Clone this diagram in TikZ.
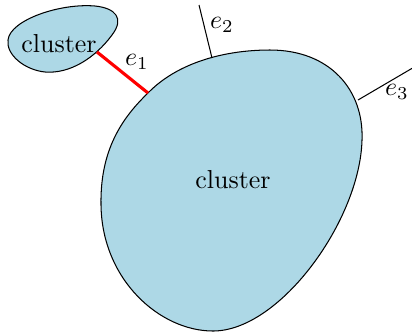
\documentclass[tikz,border=0pt]{standalone}
\usetikzlibrary{calc}
\definecolor{colblob}{RGB}{173,216,230}
\tikzset{
  blob/.style={draw=black,fill=colblob,thin},
  link/.style={draw=black,thin},
  redlink/.style={draw=red,very thick}
}

\begin{document}
\begin{tikzpicture}[x=0.01353cm,y=-0.01353cm]
  \useasboundingbox (0,0) rectangle (412,331);

  % the clusters
  \draw[blob] (8,40) .. controls (10,20) and (60,3) .. (95,6)
    .. controls (115,8) and (125,18) .. (112,35)
    .. controls (95,58) and (70,74) .. (45,72)
    .. controls (25,70) and (6,55) .. cycle;
  \draw[blob] (213,331) .. controls (160,331) and (102,280) .. (101,205)
    .. controls (100,150) and (122,118) .. (148,93)
    .. controls (175,65) and (220,50) .. (270,50)
    .. controls (330,50) and (364,90) .. (362,140)
    .. controls (360,220) and (280,331) .. cycle;

  % attachment points
  \coordinate (sa) at (97,52);
  \coordinate (ba) at (148,93);
  \coordinate (btop) at (212,58);
  \coordinate (bright) at (358,100);
  \coordinate (etwo) at (199,5);
  \coordinate (ethree) at (416,66);

  % the labels
  \node (small) at (59,44) {cluster};
  \node (big) at (233,180) {cluster};

  % the edges
  \draw[redlink] (sa) -- (ba);
  \draw[link] (btop) -- (etwo);
  \draw[link] (bright) -- (ethree);
  \node (lone) at (137,62) {$e_1$};
  \node (ltwo) at (222,25) {$e_2$};
  \node (lthree) at (397,92) {$e_3$};
\end{tikzpicture}
\end{document}
